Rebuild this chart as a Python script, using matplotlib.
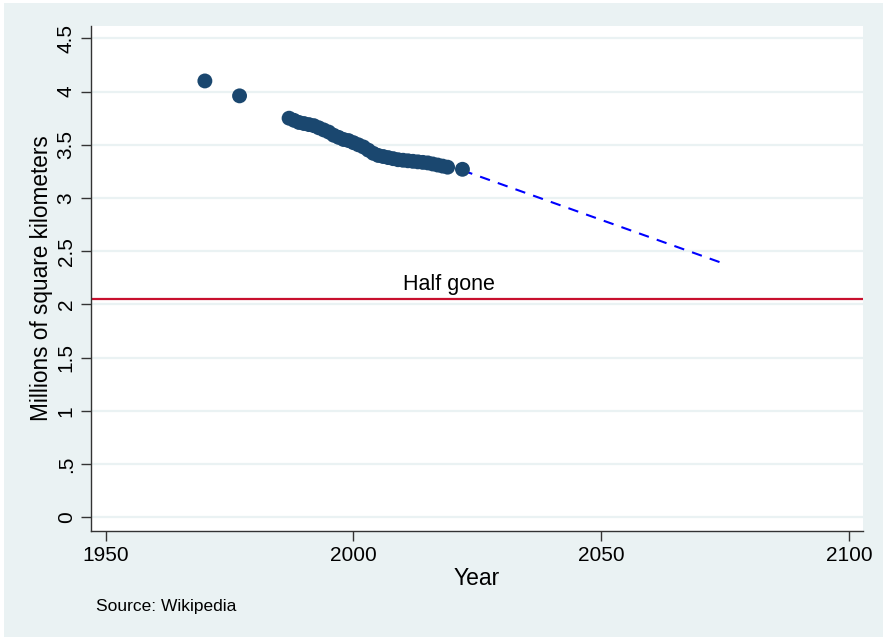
import matplotlib

matplotlib.use("Agg")
import matplotlib.pyplot as plt
from matplotlib.patches import Rectangle

plt.rcParams["font.family"] = ["Liberation Sans", "DejaVu Sans"]

BG = "#eaf2f3"
DOT = "#1a476f"

# observed extent (millions of km2)
years = [1970, 1977, 1987, 1988, 1989, 1990, 1991, 1992, 1993, 1994, 1995,
         1996, 1997, 1998, 1999, 2000, 2001, 2002, 2003, 2004, 2005, 2006,
         2007, 2008, 2009, 2010, 2011, 2012, 2013, 2014, 2015, 2016, 2017,
         2018, 2019, 2022]
extent = [4.10, 3.96, 3.75, 3.73, 3.71, 3.70, 3.69, 3.68, 3.66, 3.64, 3.62,
          3.59, 3.57, 3.55, 3.54, 3.52, 3.50, 3.48, 3.45, 3.42, 3.40, 3.39,
          3.38, 3.37, 3.36, 3.355, 3.35, 3.345, 3.34, 3.335, 3.33, 3.32, 3.31,
          3.30, 3.29, 3.27]

# linear projection
proj_years = [2022, 2075]
proj_extent = [3.26, 2.38]

half_gone = 2.05

xticks = [1950, 2000, 2050, 2100]
yticks = [0, 0.5, 1, 1.5, 2, 2.5, 3, 3.5, 4, 4.5]
ytick_labels = ["0", ".5", "1", "1.5", "2", "2.5", "3", "3.5", "4", "4.5"]

fig = plt.figure(figsize=(8.83, 6.4), dpi=100, facecolor="white")
fig.add_artist(Rectangle((0.004, 0.005), 0.996, 0.99, transform=fig.transFigure,
                         facecolor=BG, edgecolor="none", zorder=-10))

ax = fig.add_axes((0.103, 0.170, 0.874, 0.790))
ax.set_facecolor("white")

for y in yticks:
    ax.axhline(y, color=BG, lw=1.6, zorder=1)

ax.axhline(half_gone, color="#c8102e", lw=1.6, zorder=2)
ax.text(2019.3, half_gone + 0.04, "Half gone", ha="center", va="bottom", fontsize=15.5)

ax.plot(proj_years, proj_extent, color="blue", lw=1.5, ls=(0, (5, 4)), zorder=3)
ax.scatter(years, extent, s=115, color=DOT, edgecolors="none", zorder=4)

ax.set_xlim(1947, 2102.8)
ax.set_ylim(-0.13, 4.62)
ax.set_xticks(xticks)
ax.set_yticks(yticks)
ax.set_yticklabels(ytick_labels, rotation=90, va="center")
ax.tick_params(axis="both", labelsize=15, length=7, width=1, color="#333333", pad=4)

for side in ("top", "right"):
    ax.spines[side].set_visible(False)
for side in ("left", "bottom"):
    ax.spines[side].set_color("#333333")
    ax.spines[side].set_linewidth(1)

ax.set_xlabel("Year", fontsize=16.5, labelpad=1)
ax.set_ylabel("Millions of square kilometers", fontsize=16.3, labelpad=3)

fig.text(0.109, 0.052, "Source: Wikipedia", fontsize=12.5, va="center")

fig.savefig("out.png", dpi=100, facecolor=fig.get_facecolor())
